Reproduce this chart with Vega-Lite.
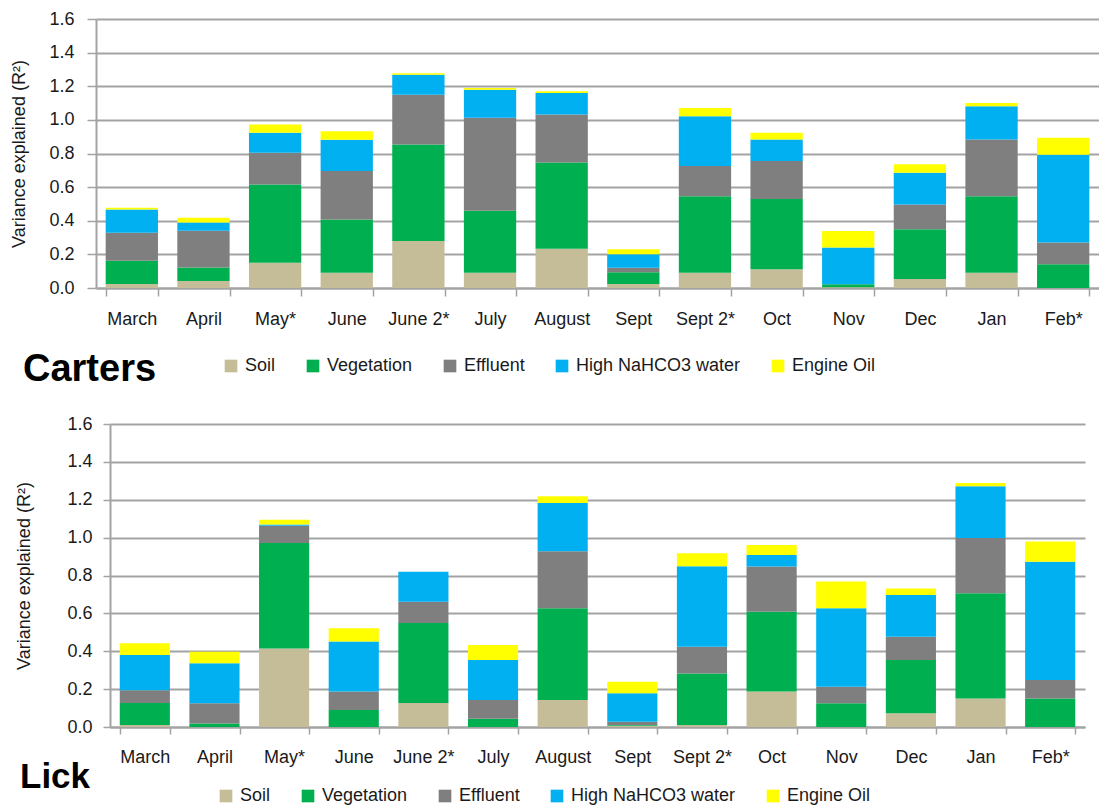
{
  "$schema": "https://vega.github.io/schema/vega-lite/v6.json",
  "padding": {"left": 10, "top": 10, "right": 0, "bottom": 60},
  "autosize": {"type": "pad"},
  "background": "white",
  "config": {
    "font": "Liberation Sans",
    "view": {"stroke": null},
    "axis": {
      "labelColor": "#1a1a1a",
      "titleColor": "#1a1a1a",
      "gridColor": "#a3a3a3",
      "domainColor": "#a3a3a3",
      "tickColor": "#a3a3a3",
      "gridWidth": 2,
      "domainWidth": 2,
      "tickWidth": 1.5,
      "labelFontSize": 18,
      "titleFontSize": 18,
      "titleFontWeight": "normal"
    },
    "legend": {
      "labelColor": "#1a1a1a",
      "labelFontSize": 18,
      "labelLimit": 300,
      "padding": 0,
      "symbolType": "square",
      "symbolSize": 160,
      "symbolStrokeWidth": 0,
      "symbolOpacity": 1,
      "columnPadding": 28,
      "labelOffset": 5
    }
  },
  "datasets": {
    "carters": [
      {"m": "March", "c": "Soil", "v": 0.024}, {"m": "March", "c": "Vegetation", "v": 0.138}, {"m": "March", "c": "Effluent", "v": 0.167}, {"m": "March", "c": "High NaHCO3 water", "v": 0.138}, {"m": "March", "c": "Engine Oil", "v": 0.010},
      {"m": "April", "c": "Soil", "v": 0.041}, {"m": "April", "c": "Vegetation", "v": 0.081}, {"m": "April", "c": "Effluent", "v": 0.219}, {"m": "April", "c": "High NaHCO3 water", "v": 0.048}, {"m": "April", "c": "Engine Oil", "v": 0.029},
      {"m": "May*", "c": "Soil", "v": 0.150}, {"m": "May*", "c": "Vegetation", "v": 0.465}, {"m": "May*", "c": "Effluent", "v": 0.190}, {"m": "May*", "c": "High NaHCO3 water", "v": 0.118}, {"m": "May*", "c": "Engine Oil", "v": 0.049},
      {"m": "June", "c": "Soil", "v": 0.091}, {"m": "June", "c": "Vegetation", "v": 0.317}, {"m": "June", "c": "Effluent", "v": 0.288}, {"m": "June", "c": "High NaHCO3 water", "v": 0.186}, {"m": "June", "c": "Engine Oil", "v": 0.051},
      {"m": "June 2*", "c": "Soil", "v": 0.280}, {"m": "June 2*", "c": "Vegetation", "v": 0.574}, {"m": "June 2*", "c": "Effluent", "v": 0.296}, {"m": "June 2*", "c": "High NaHCO3 water", "v": 0.118}, {"m": "June 2*", "c": "Engine Oil", "v": 0.010},
      {"m": "July", "c": "Soil", "v": 0.091}, {"m": "July", "c": "Vegetation", "v": 0.369}, {"m": "July", "c": "Effluent", "v": 0.552}, {"m": "July", "c": "High NaHCO3 water", "v": 0.167}, {"m": "July", "c": "Engine Oil", "v": 0.010},
      {"m": "August", "c": "Soil", "v": 0.233}, {"m": "August", "c": "Vegetation", "v": 0.513}, {"m": "August", "c": "Effluent", "v": 0.286}, {"m": "August", "c": "High NaHCO3 water", "v": 0.128}, {"m": "August", "c": "Engine Oil", "v": 0.010},
      {"m": "Sept", "c": "Soil", "v": 0.024}, {"m": "Sept", "c": "Vegetation", "v": 0.069}, {"m": "Sept", "c": "Effluent", "v": 0.027}, {"m": "Sept", "c": "High NaHCO3 water", "v": 0.081}, {"m": "Sept", "c": "Engine Oil", "v": 0.030},
      {"m": "Sept 2*", "c": "Soil", "v": 0.091}, {"m": "Sept 2*", "c": "Vegetation", "v": 0.455}, {"m": "Sept 2*", "c": "Effluent", "v": 0.180}, {"m": "Sept 2*", "c": "High NaHCO3 water", "v": 0.296}, {"m": "Sept 2*", "c": "Engine Oil", "v": 0.049},
      {"m": "Oct", "c": "Soil", "v": 0.112}, {"m": "Oct", "c": "Vegetation", "v": 0.417}, {"m": "Oct", "c": "Effluent", "v": 0.226}, {"m": "Oct", "c": "High NaHCO3 water", "v": 0.129}, {"m": "Oct", "c": "Engine Oil", "v": 0.039},
      {"m": "Nov", "c": "Soil", "v": 0.004}, {"m": "Nov", "c": "Vegetation", "v": 0.018}, {"m": "Nov", "c": "Effluent", "v": 0.0}, {"m": "Nov", "c": "High NaHCO3 water", "v": 0.219}, {"m": "Nov", "c": "Engine Oil", "v": 0.098},
      {"m": "Dec", "c": "Soil", "v": 0.053}, {"m": "Dec", "c": "Vegetation", "v": 0.296}, {"m": "Dec", "c": "Effluent", "v": 0.148}, {"m": "Dec", "c": "High NaHCO3 water", "v": 0.189}, {"m": "Dec", "c": "Engine Oil", "v": 0.050},
      {"m": "Jan", "c": "Soil", "v": 0.091}, {"m": "Jan", "c": "Vegetation", "v": 0.455}, {"m": "Jan", "c": "Effluent", "v": 0.338}, {"m": "Jan", "c": "High NaHCO3 water", "v": 0.197}, {"m": "Jan", "c": "Engine Oil", "v": 0.020},
      {"m": "Feb*", "c": "Soil", "v": 0.0}, {"m": "Feb*", "c": "Vegetation", "v": 0.142}, {"m": "Feb*", "c": "Effluent", "v": 0.128}, {"m": "Feb*", "c": "High NaHCO3 water", "v": 0.523}, {"m": "Feb*", "c": "Engine Oil", "v": 0.100}
    ],
    "lick": [
      {"m": "March", "c": "Soil", "v": 0.011}, {"m": "March", "c": "Vegetation", "v": 0.116}, {"m": "March", "c": "Effluent", "v": 0.067}, {"m": "March", "c": "High NaHCO3 water", "v": 0.186}, {"m": "March", "c": "Engine Oil", "v": 0.062},
      {"m": "April", "c": "Soil", "v": 0.0}, {"m": "April", "c": "Vegetation", "v": 0.019}, {"m": "April", "c": "Effluent", "v": 0.106}, {"m": "April", "c": "High NaHCO3 water", "v": 0.211}, {"m": "April", "c": "Engine Oil", "v": 0.062},
      {"m": "May*", "c": "Soil", "v": 0.415}, {"m": "May*", "c": "Vegetation", "v": 0.557}, {"m": "May*", "c": "Effluent", "v": 0.091}, {"m": "May*", "c": "High NaHCO3 water", "v": 0.006}, {"m": "May*", "c": "Engine Oil", "v": 0.026},
      {"m": "June", "c": "Soil", "v": 0.0}, {"m": "June", "c": "Vegetation", "v": 0.090}, {"m": "June", "c": "Effluent", "v": 0.097}, {"m": "June", "c": "High NaHCO3 water", "v": 0.264}, {"m": "June", "c": "Engine Oil", "v": 0.070},
      {"m": "June 2*", "c": "Soil", "v": 0.127}, {"m": "June 2*", "c": "Vegetation", "v": 0.422}, {"m": "June 2*", "c": "Effluent", "v": 0.113}, {"m": "June 2*", "c": "High NaHCO3 water", "v": 0.158}, {"m": "June 2*", "c": "Engine Oil", "v": 0.0},
      {"m": "July", "c": "Soil", "v": 0.0}, {"m": "July", "c": "Vegetation", "v": 0.044}, {"m": "July", "c": "Effluent", "v": 0.099}, {"m": "July", "c": "High NaHCO3 water", "v": 0.211}, {"m": "July", "c": "Engine Oil", "v": 0.079},
      {"m": "August", "c": "Soil", "v": 0.143}, {"m": "August", "c": "Vegetation", "v": 0.484}, {"m": "August", "c": "Effluent", "v": 0.301}, {"m": "August", "c": "High NaHCO3 water", "v": 0.255}, {"m": "August", "c": "Engine Oil", "v": 0.035},
      {"m": "Sept", "c": "Soil", "v": 0.007}, {"m": "Sept", "c": "Vegetation", "v": 0.004}, {"m": "Sept", "c": "Effluent", "v": 0.017}, {"m": "Sept", "c": "High NaHCO3 water", "v": 0.150}, {"m": "Sept", "c": "Engine Oil", "v": 0.061},
      {"m": "Sept 2*", "c": "Soil", "v": 0.011}, {"m": "Sept 2*", "c": "Vegetation", "v": 0.272}, {"m": "Sept 2*", "c": "Effluent", "v": 0.141}, {"m": "Sept 2*", "c": "High NaHCO3 water", "v": 0.425}, {"m": "Sept 2*", "c": "Engine Oil", "v": 0.068},
      {"m": "Oct", "c": "Soil", "v": 0.187}, {"m": "Oct", "c": "Vegetation", "v": 0.422}, {"m": "Oct", "c": "Effluent", "v": 0.238}, {"m": "Oct", "c": "High NaHCO3 water", "v": 0.061}, {"m": "Oct", "c": "Engine Oil", "v": 0.053},
      {"m": "Nov", "c": "Soil", "v": 0.0}, {"m": "Nov", "c": "Vegetation", "v": 0.125}, {"m": "Nov", "c": "Effluent", "v": 0.088}, {"m": "Nov", "c": "High NaHCO3 water", "v": 0.414}, {"m": "Nov", "c": "Engine Oil", "v": 0.141},
      {"m": "Dec", "c": "Soil", "v": 0.072}, {"m": "Dec", "c": "Vegetation", "v": 0.282}, {"m": "Dec", "c": "Effluent", "v": 0.123}, {"m": "Dec", "c": "High NaHCO3 water", "v": 0.220}, {"m": "Dec", "c": "Engine Oil", "v": 0.035},
      {"m": "Jan", "c": "Soil", "v": 0.151}, {"m": "Jan", "c": "Vegetation", "v": 0.555}, {"m": "Jan", "c": "Effluent", "v": 0.292}, {"m": "Jan", "c": "High NaHCO3 water", "v": 0.273}, {"m": "Jan", "c": "Engine Oil", "v": 0.018},
      {"m": "Feb*", "c": "Soil", "v": 0.0}, {"m": "Feb*", "c": "Vegetation", "v": 0.151}, {"m": "Feb*", "c": "Effluent", "v": 0.097}, {"m": "Feb*", "c": "High NaHCO3 water", "v": 0.625}, {"m": "Feb*", "c": "Engine Oil", "v": 0.106}
    ]
  },
  "bounds": "flush",
  "center": true,
  "spacing": 136,
  "resolve": {"scale": {"color": "independent", "x": "independent", "y": "independent"}, "legend": {"color": "independent"}},
  "vconcat": [
    {
      "data": {"name": "carters"},
      "width": 1003,
      "height": 269,
      "title": {"text": "Carters", "orient": "bottom", "anchor": "start", "frame": "group", "dx": -73, "dy": -24, "offset": 0, "fontSize": 38, "fontWeight": "bold", "color": "#000000", "font": "Liberation Sans"},
      "transform": [{"calculate": "indexof(['Soil','Vegetation','Effluent','High NaHCO3 water','Engine Oil'], datum.c)", "as": "o"}],
      "mark": {"type": "bar"},
      "encoding": {
        "x": {"field": "m", "type": "nominal", "sort": ["March", "April", "May*", "June", "June 2*", "July", "August", "Sept", "Sept 2*", "Oct", "Nov", "Dec", "Jan", "Feb*"], "scale": {"paddingInner": 0.27, "paddingOuter": 0.135}, "axis": {"title": null, "labelAngle": 0, "tickBand": "extent", "tickSize": 8, "labelPadding": 14, "grid": false}},
        "y": {"field": "v", "type": "quantitative", "stack": "zero", "scale": {"domain": [0, 1.6], "nice": false}, "axis": {"title": "Variance explained (R²)", "values": [0, 0.2, 0.4, 0.6, 0.8, 1.0, 1.2, 1.4, 1.6], "format": ".1f", "tickSize": 9, "labelPadding": 13, "titlePadding": 20}},
        "color": {"field": "c", "type": "nominal", "scale": {"domain": ["Soil", "Vegetation", "Effluent", "High NaHCO3 water", "Engine Oil"], "range": ["#C4BD97", "#00B050", "#7F7F7F", "#00B0F0", "#FFFF00"]}, "legend": {"orient": "none", "legendX": 126, "legendY": 338, "direction": "horizontal", "columns": 5, "title": null}},
        "order": {"field": "o", "type": "quantitative", "sort": "ascending"}
      }
    },
    {
      "data": {"name": "lick"},
      "width": 975,
      "height": 303,
      "title": {"text": "Lick", "orient": "bottom", "anchor": "start", "frame": "group", "dx": -90, "dy": -45, "offset": 0, "fontSize": 35, "fontWeight": "bold", "color": "#000000", "font": "Liberation Sans"},
      "transform": [{"calculate": "indexof(['Soil','Vegetation','Effluent','High NaHCO3 water','Engine Oil'], datum.c)", "as": "o"}],
      "mark": {"type": "bar"},
      "encoding": {
        "x": {"field": "m", "type": "nominal", "sort": ["March", "April", "May*", "June", "June 2*", "July", "August", "Sept", "Sept 2*", "Oct", "Nov", "Dec", "Jan", "Feb*"], "scale": {"paddingInner": 0.28, "paddingOuter": 0.14}, "axis": {"title": null, "labelAngle": 0, "tickBand": "extent", "tickSize": 7, "labelPadding": 14, "grid": false}},
        "y": {"field": "v", "type": "quantitative", "stack": "zero", "scale": {"domain": [0, 1.6], "nice": false}, "axis": {"title": "Variance explained (R²)", "values": [0, 0.2, 0.4, 0.6, 0.8, 1.0, 1.2, 1.4, 1.6], "format": ".1f", "tickSize": 7, "labelPadding": 11, "titlePadding": 33}},
        "color": {"field": "c", "type": "nominal", "scale": {"domain": ["Soil", "Vegetation", "Effluent", "High NaHCO3 water", "Engine Oil"], "range": ["#C4BD97", "#00B050", "#7F7F7F", "#00B0F0", "#FFFF00"]}, "legend": {"orient": "none", "legendX": 107, "legendY": 363, "direction": "horizontal", "columns": 5, "title": null}},
        "order": {"field": "o", "type": "quantitative", "sort": "ascending"}
      }
    }
  ]
}
